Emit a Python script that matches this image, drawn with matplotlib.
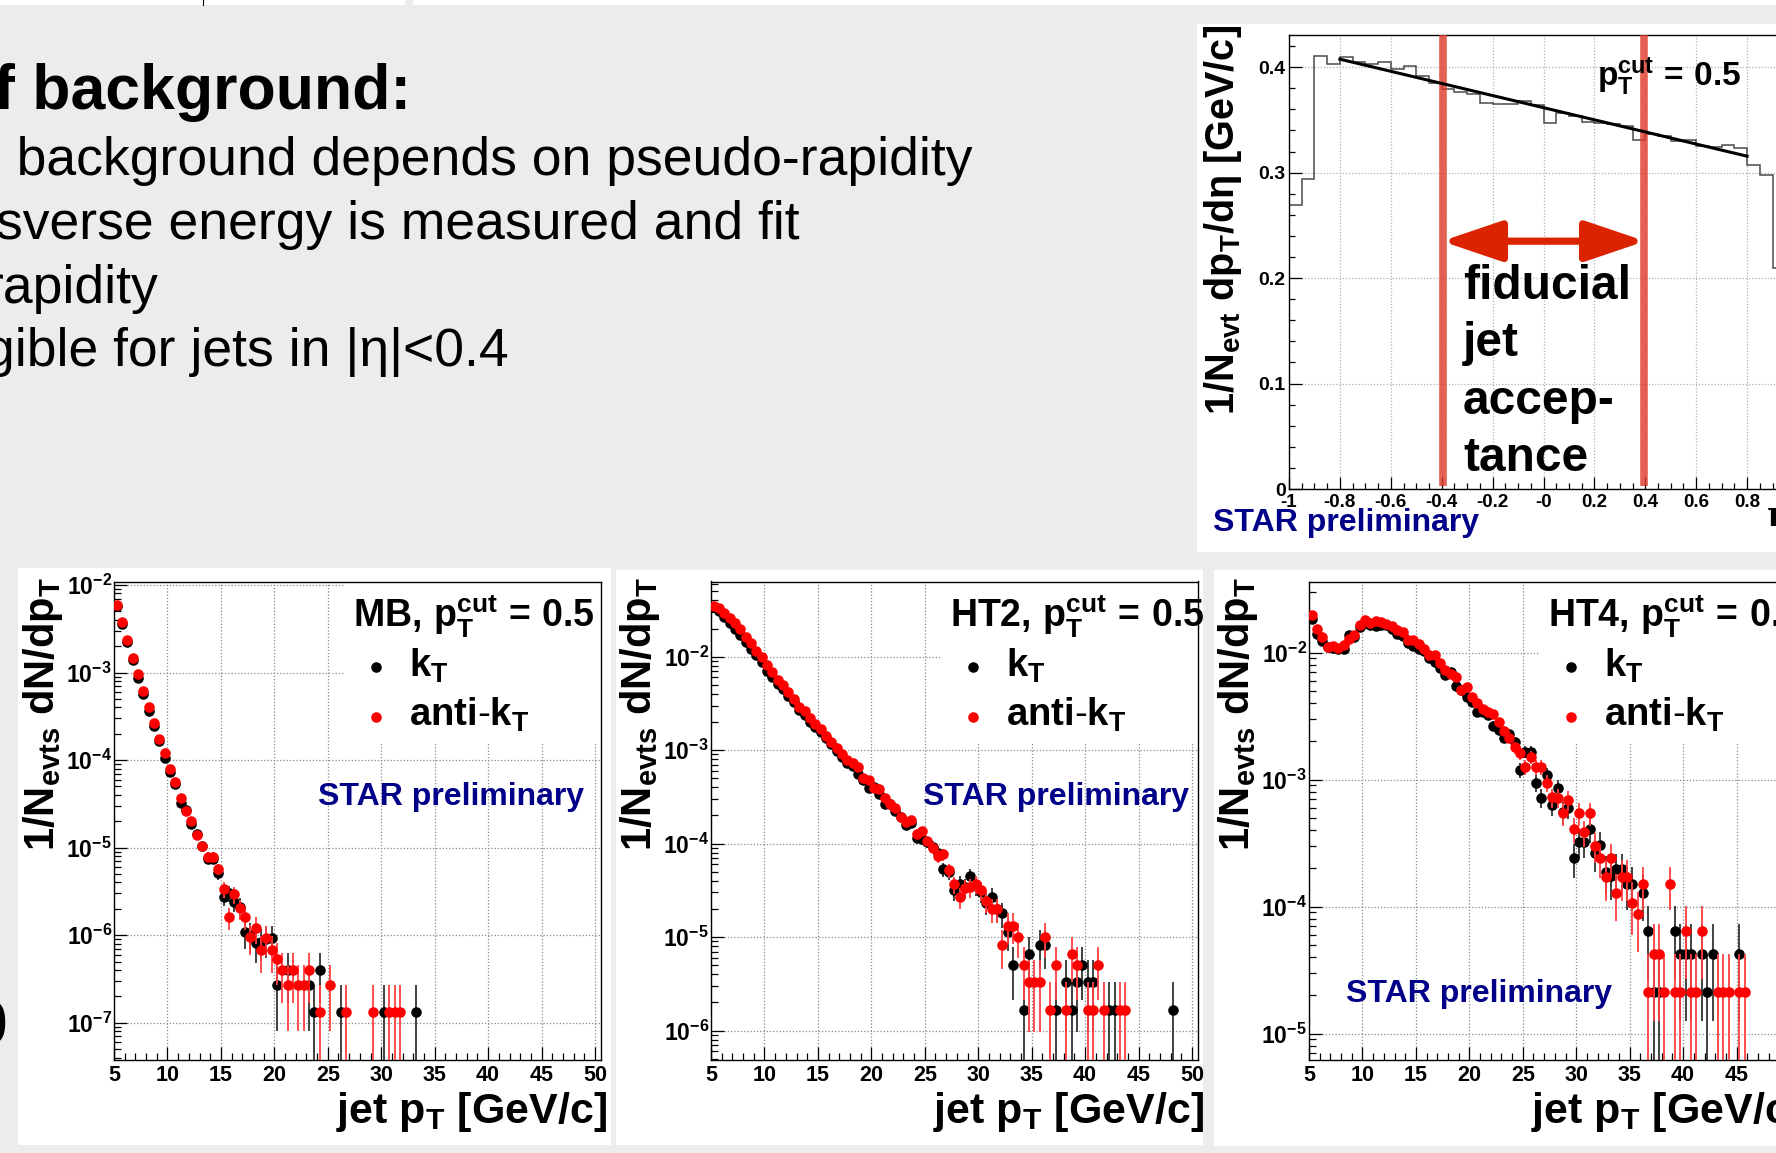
import numpy as np
import matplotlib
matplotlib.use('Agg')
import matplotlib.pyplot as plt
from matplotlib.patches import Rectangle, FancyArrowPatch, ArrowStyle
from matplotlib.ticker import MultipleLocator, LogLocator, NullFormatter
from matplotlib.lines import Line2D

plt.rcParams['font.family'] = ['Liberation Sans', 'DejaVu Sans']
plt.rcParams['mathtext.fontset'] = 'custom'
plt.rcParams['mathtext.rm'] = 'Liberation Sans'
plt.rcParams['mathtext.it'] = 'Liberation Sans:italic'
plt.rcParams['mathtext.bf'] = 'Liberation Sans:bold'
plt.rcParams['axes.unicode_minus'] = False

# ---------------- data ----------------
# eta distribution of background (top right)
eta_edges = np.round(np.arange(-1.0, 1.0001, 0.05), 3)
eta_hist = [0.269, 0.2935, 0.4104, 0.4028, 0.4098, 0.4047, 0.4028, 0.4047, 0.3984, 0.401,
            0.3915, 0.385, 0.379, 0.3767, 0.375, 0.366, 0.3655, 0.3655, 0.368, 0.364,
            0.347, 0.3567, 0.3535, 0.348, 0.347, 0.3466, 0.344, 0.3314, 0.337, 0.3346,
            0.330, 0.3314, 0.325, 0.3239, 0.3258, 0.323, 0.3068, 0.298, 0.2098, 0.19]
fit_intercept = 0.3616
fit_slope = -0.0575
fit_range = [-0.8, 0.8]
fiducial_edges = [-0.395, 0.395]
arrow_x = [-0.40, 0.40]
arrow_y = 0.235
eta_xticks = [-1, -0.8, -0.6, -0.4, -0.2, 0, 0.2, 0.4, 0.6, 0.8, 1]
eta_xlabels = ['-1', '-0.8', '-0.6', '-0.4', '-0.2', '-0', '0.2', '0.4', '0.6', '0.8', '1']
eta_yticks = [0, 0.1, 0.2, 0.3, 0.4]
eta_ylabels = ['0', '0.1', '0.2', '0.3', '0.4']

# jet spectra: bin centres 5.25 ... 49.75 GeV/c
pt_centers = 5.25 + 0.5 * np.arange(90)
nan = np.nan

def pad(v, n=90):
    return list(v) + [nan] * (n - len(v))

mb_akt = pad([5.91e-3, 3.75e-3, 2.37e-3, 1.45e-3, 9.5e-4, 6.15e-4, 4.0e-4, 2.65e-4, 1.755e-4, 1.215e-4,
              7.98e-5, 5.67e-5, 3.66e-5, 2.62e-5, 2.01e-5, 1.39e-5, 1.05e-5, 7.87e-6, 7.8e-6, 5.7e-6,
              3.34e-6, 1.6e-6, 2.92e-6, 2.02e-6, 1.6e-6, 9.5e-7, 1.2e-6, 6.7e-7, 9.3e-7, 6.7e-7,
              5.36e-7, 4.0e-7, 2.7e-7, 4.0e-7, 2.7e-7, 2.7e-7, 4.0e-7, nan, 1.34e-7, nan,
              2.7e-7, nan, nan, 1.34e-7, nan, nan, nan, nan, 1.34e-7, nan,
              nan, 1.34e-7, 1.34e-7, 1.34e-7])
mb_kt = pad([5.8e-3, 3.58e-3, 2.23e-3, 1.38e-3, 8.74e-4, 5.64e-4, 3.64e-4, 2.47e-4, 1.67e-4, 1.065e-4,
             7.24e-5, 5.33e-5, 3.2e-5, 2.67e-5, 1.88e-5, 1.42e-5, 1.05e-5, 7.5e-6, 7.5e-6, 5.08e-6,
             2.75e-6, 3.0e-6, 2.41e-6, 2.11e-6, 1.08e-6, 1.0e-6, 8.05e-7, 8.4e-7, 9.0e-7, 9.3e-7,
             2.7e-7, nan, 4.0e-7, nan, nan, nan, 2.7e-7, 1.34e-7, 4.0e-7, nan,
             nan, nan, 1.34e-7, nan, nan, nan, nan, nan, nan, nan,
             1.34e-7, nan, nan, nan, nan, nan, 1.34e-7])

ht2_akt = pad([3.46e-2, 3.30e-2, 2.91e-2, 2.57e-2, 2.28e-2, 1.98e-2, 1.64e-2, 1.39e-2, 1.14e-2, 1.0e-2,
               8.2e-3, 6.79e-3, 5.62e-3, 4.97e-3, 4.15e-3, 3.52e-3, 2.91e-3, 2.6e-3, 2.18e-3, 1.90e-3,
               1.68e-3, 1.43e-3, 1.21e-3, 1.05e-3, 9.06e-4, 7.81e-4, 7.31e-4, 6.52e-4, 4.97e-4, 4.81e-4,
               3.98e-4, 3.82e-4, 3.11e-4, 2.64e-4, 2.43e-4, 1.93e-4, 1.72e-4, 1.78e-4, 1.28e-4, 1.37e-4,
               1.07e-4, 9.06e-5, 7.38e-5, 7.69e-5, 5.18e-5, 3.65e-5, 2.65e-5, 3.33e-5, 3.39e-5, 3.68e-5,
               3.18e-5, 2.44e-5, 1.99e-5, 1.99e-5, 8.2e-6, 1.32e-5, 1.32e-5, 1.0e-5, 5.0e-6, 3.32e-6,
               3.32e-6, 3.32e-6, 1.0e-5, 1.66e-6, 5.0e-6, nan, 1.66e-6, 6.64e-6, 5.0e-6, nan,
               1.66e-6, 1.66e-6, 5.0e-6, 1.66e-6, nan, nan, 1.66e-6, 1.66e-6])
ht2_kt = pad([3.38e-2, 3.06e-2, 2.68e-2, 2.28e-2, 1.98e-2, 1.72e-2, 1.43e-2, 1.21e-2, 1.03e-2, 8.7e-3,
              7.08e-3, 6.0e-3, 5.1e-3, 4.5e-3, 3.82e-3, 3.24e-3, 2.68e-3, 2.39e-3, 1.98e-3, 1.78e-3,
              1.55e-3, 1.35e-3, 1.16e-3, 9.84e-4, 8.49e-4, 7.2e-4, 6.8e-4, 5.62e-4, 4.77e-4, 3.98e-4,
              4.05e-4, 3.43e-4, 2.68e-4, 2.64e-4, 2.24e-4, 1.93e-4, 1.58e-4, 1.66e-4, 1.16e-4, 1.11e-4,
              1.03e-4, 9.3e-5, 8.0e-5, 5.3e-5, 5.0e-5, 3.18e-5, 3.74e-5, 3.4e-5, 4.45e-5, 3.5e-5,
              3.0e-5, 2.34e-5, 2.65e-5, 2.0e-5, 1.79e-5, 1.14e-5, 5.0e-6, nan, 1.66e-6, 6.64e-6,
              nan, 8.3e-6, 8.3e-6, nan, 1.66e-6, nan, 3.32e-6, 1.66e-6, 3.32e-6, 5.0e-6,
              3.32e-6, 3.32e-6, nan, nan, 1.66e-6, 1.66e-6, nan, nan, nan, nan,
              nan, nan, nan, nan, nan, nan, 1.66e-6])

ht4_akt = pad([1.99e-2, 1.54e-2, 1.33e-2, 1.11e-2, 1.13e-2, 1.09e-2, 1.14e-2, 1.27e-2, 1.38e-2, 1.64e-2,
               1.79e-2, 1.72e-2, 1.76e-2, 1.74e-2, 1.69e-2, 1.62e-2, 1.50e-2, 1.44e-2, 1.25e-2, 1.25e-2,
               1.16e-2, 1.07e-2, 9.52e-3, 9.52e-3, 8.2e-3, 7.27e-3, 6.72e-3, 6.44e-3, 5.07e-3, 5.31e-3,
               4.46e-3, 3.98e-3, 3.6e-3, 3.43e-3, 3.27e-3, 2.83e-3, 2.42e-3, 2.14e-3, 1.79e-3, 1.61e-3,
               1.25e-3, 1.5e-3, 1.25e-3, 1.25e-3, 9.4e-4, 7.24e-4, 7.22e-4, 5.41e-4, 6.89e-4, 4.07e-4,
               5.41e-4, 3.84e-4, 5.41e-4, 3.01e-4, 2.40e-4, 1.72e-4, 2.40e-4, 1.29e-4, 1.72e-4, 1.72e-4,
               1.07e-4, 8.7e-5, 1.5e-4, 2.13e-5, 4.26e-5, 4.26e-5, 2.13e-5, 1.5e-4, 2.13e-5, 2.13e-5,
               6.4e-5, 2.13e-5, 2.13e-5, 6.4e-5, nan, nan, 2.13e-5, 2.13e-5, 2.13e-5, nan,
               2.13e-5, 2.13e-5])
ht4_kt = pad([1.85e-2, 1.41e-2, 1.23e-2, 1.11e-2, 1.09e-2, 1.06e-2, 1.06e-2, 1.37e-2, 1.33e-2, 1.59e-2,
              1.72e-2, 1.66e-2, 1.62e-2, 1.66e-2, 1.64e-2, 1.54e-2, 1.41e-2, 1.35e-2, 1.18e-2, 1.13e-2,
              1.06e-2, 1.02e-2, 9.08e-3, 8.35e-3, 7.58e-3, 6.64e-3, 7.05e-3, 5.48e-3, 5.07e-3, 4.49e-3,
              4.05e-3, 3.43e-3, 3.43e-3, 3.22e-3, 2.66e-3, 2.46e-3, 2.14e-3, 2.28e-3, 1.97e-3, 1.19e-3,
              1.66e-3, 1.66e-3, 9.4e-4, 7.16e-4, 1.09e-3, 6.35e-4, 8.5e-4, 5.57e-4, 6.0e-4, 2.4e-4,
              3.24e-4, 3.24e-4, 4.07e-4, 2.62e-4, 3.05e-4, 1.88e-4, 1.74e-4, 1.96e-4, 1.96e-4, 1.5e-4,
              1.5e-4, nan, 1.29e-4, 6.4e-5, 2.13e-5, 2.13e-5, nan, nan, 6.4e-5, 4.26e-5,
              4.26e-5, 4.26e-5, nan, 4.26e-5, 2.13e-5, 4.26e-5, nan, nan, nan, nan,
              4.26e-5])

# single-entry level (per-panel normalisation) used for Poisson error bars
mb_unit, ht2_unit, ht4_unit = 1.34e-7, 1.66e-6, 2.13e-5

panels = [
    dict(name='MB', kt=mb_kt, akt=mb_akt, unit=mb_unit, ylog=(-7.42, -1.96), decades=[-7, -6, -5, -4, -3, -2],
         left=114, star_dx=204, star_y=805),
    dict(name='HT2', kt=ht2_kt, akt=ht2_akt, unit=ht2_unit, ylog=(-6.31, -1.196), decades=[-6, -5, -4, -3, -2],
         left=711, star_dx=212, star_y=805),
    dict(name='HT4', kt=ht4_kt, akt=ht4_akt, unit=ht4_unit, ylog=(-5.204, -1.441), decades=[-5, -4, -3, -2],
         left=1309, star_dx=37, star_y=1002),
]
pt_xticks = [5, 10, 15, 20, 25, 30, 35, 40, 45, 50]

# ---------------- figure ----------------
W, H = 1776, 1153
fig = plt.figure(figsize=(W / 100, H / 100), dpi=100)
fig.patch.set_facecolor('#ececec')
NAVY = '#000088'


def fx(x):
    return x / W


def fy(y):
    return 1 - y / H


def rect(x0, y0, x1, y1, color='white', z=-10):
    fig.add_artist(Rectangle((fx(x0), fy(y1)), (x1 - x0) / W, (y1 - y0) / H,
                             transform=fig.transFigure, facecolor=color, edgecolor='none', zorder=z))


def ftext(x, y, s, **kw):
    return fig.text(fx(x), fy(y), s, **kw)


# top strip
rect(0, 0, 405, 4.6)
rect(413, 0, 1776, 4.6)
fig.add_artist(Line2D([fx(203), fx(203)], [fy(0), fy(4.6)], color='black', lw=0.8,
                      transform=fig.transFigure))

# slide text (cut at the left edge)
ftext(411, 109, 'f background:', ha='right', va='baseline', fontsize=45, fontweight='bold')
ftext(972, 175, 'e background depends on pseudo-rapidity', ha='right', va='baseline', fontsize=38.5)
ftext(800, 238.6, 'sverse energy is measured and fit', ha='right', va='baseline', fontsize=38.5)
ftext(158.4, 303, 'rapidity', ha='right', va='baseline', fontsize=38.5)
ftext(509, 366, 'gible for jets in |η|<0.4', ha='right', va='baseline', fontsize=38.5)
ftext(7, 1028, '0', ha='right', va='center', fontsize=45, fontweight='bold')

# white panels
rect(1197, 24, 1776, 552)
rect(18, 568, 611, 1145)
rect(616, 570, 1203, 1145)
rect(1214, 570, 1776, 1146)

# ---------------- top right: eta distribution ----------------
ax = fig.add_axes([fx(1289), fy(489), (1798 - 1289) / W, (489 - 34.5) / H])
ax.set_xlim(-1, 1)
ax.set_ylim(0, 0.431)
ax.set_axisbelow(True)
ax.grid(True, which='major', color='#b0b0b0', linestyle=(0, (1, 1.5)), linewidth=0.9)
ax.stairs(eta_hist, eta_edges, baseline=None, color='#4a4a4a', lw=1.1, zorder=2)
ax.vlines(fiducial_edges, 0.003, 0.431, colors='#e03a28', alpha=0.8, lw=5.5, zorder=3)
xf = np.array(fit_range)
ax.plot(xf, fit_intercept + fit_slope * xf, color='black', lw=2.2, zorder=4)
arr = FancyArrowPatch((arrow_x[0], arrow_y), (arrow_x[1], arrow_y),
                      arrowstyle=ArrowStyle('<|-|>', head_length=37, head_width=12.5),
                      color='#dc2300', lw=5.2, shrinkA=0, shrinkB=0, joinstyle='round',
                      capstyle='butt', zorder=5)
ax.add_patch(arr)
ax.set_xticks(eta_xticks, labels=eta_xlabels, fontsize=13.5, fontweight='bold')
ax.set_yticks(eta_yticks, labels=eta_ylabels, fontsize=14, fontweight='bold')
ax.xaxis.set_minor_locator(MultipleLocator(0.05))
ax.yaxis.set_minor_locator(MultipleLocator(0.02))
ax.tick_params(which='both', direction='in', top=False, right=False, width=0.9, color='black')
ax.tick_params(which='major', length=9)
ax.tick_params(which='minor', length=4.5)
ax.tick_params(axis='x', pad=3.5)
ax.tick_params(axis='y', pad=2.5)
for s in ax.spines.values():
    s.set_linewidth(1.0)

ftext(1223, 25, r'$\mathbf{1/N_{evt}\ dp_{T}/d\eta\ [GeV/c]}$', rotation=90, ha='center', va='top',
      fontsize=28.5)
ftext(1597, 86, r'$\mathbf{p_{T}^{cut}\,=\,0.5}$', ha='left', va='baseline', fontsize=24)
for txt, yb in zip(['fiducial', 'jet', 'accep-', 'tance'], [299, 356, 414, 471]):
    ftext(1463, yb, txt, ha='left', va='baseline', fontsize=34.5, fontweight='bold')
ftext(1213, 531, 'STAR preliminary', ha='left', va='baseline', fontsize=23, fontweight='bold', color=NAVY)
ftext(1767, 526, 'η', ha='left', va='baseline', fontsize=26, fontweight='bold', family='DejaVu Serif')

# ---------------- bottom: jet spectra ----------------
AX_T, AX_B, AX_W = 581.5, 1059.5, 487


def draw_series(ax, x, y, unit, color, ecolor, zb, zm, ylo):
    y = np.asarray(y, float)
    m = np.isfinite(y)
    xs, ys = x[m], y[m]
    err = np.sqrt(ys * unit)
    lo = np.where(ys - err > ylo, ys - err, ylo * 0.5)
    hi = ys + err
    ax.vlines(xs, lo, hi, colors=ecolor, lw=1.3, zorder=zb)
    ax.plot(xs, ys, linestyle='none', marker='o', ms=7.6, color=color, mew=0, zorder=zm)


for p in panels:
    L = p['left']
    ax = fig.add_axes([fx(L), fy(AX_B), AX_W / W, (AX_B - AX_T) / H])
    ax.set_yscale('log')
    ax.set_xlim(5, 50.56)
    ylo, yhi = 10 ** p['ylog'][0], 10 ** p['ylog'][1]
    ax.set_ylim(ylo, yhi)
    ax.set_axisbelow(True)
    ax.grid(True, which='major', color='#8a8a8a', linestyle=(0, (1, 1.6)), linewidth=0.9)
    ax.add_patch(Rectangle((0.474, 0.662), 0.524, 0.336, transform=ax.transAxes,
                           facecolor='white', edgecolor='none', zorder=1))
    draw_series(ax, pt_centers, p['kt'], p['unit'], 'black', '#333333', 2, 3, ylo)
    draw_series(ax, pt_centers, p['akt'], p['unit'], '#ff0000', '#ff4040', 3.5, 4, ylo)

    ax.set_xticks(pt_xticks, labels=[str(t) for t in pt_xticks], fontsize=15.5, fontweight='bold')
    ax.set_yticks([10.0 ** d for d in p['decades']],
                  labels=[r'$\mathbf{10^{%d}}$' % d for d in p['decades']], fontsize=16.5)
    ax.xaxis.set_minor_locator(MultipleLocator(1))
    ax.yaxis.set_minor_locator(LogLocator(base=10, subs=np.arange(2, 10), numticks=30))
    ax.yaxis.set_minor_formatter(NullFormatter())
    ax.tick_params(which='both', direction='in', top=False, right=False, width=0.9, color='black')
    ax.tick_params(which='major', length=9.5)
    ax.tick_params(which='minor', length=5)
    ax.tick_params(axis='x', pad=4)
    ax.tick_params(axis='y', pad=1.5)
    for s in ax.spines.values():
        s.set_linewidth(1.0)

    # legend
    mx = 261.6 / AX_W
    ax.plot([mx], [(AX_B - 667) / (AX_B - AX_T)], 'o', ms=7.6, color='black', mew=0,
            transform=ax.transAxes, clip_on=False, zorder=6)
    ax.plot([mx], [(AX_B - 717) / (AX_B - AX_T)], 'o', ms=7.6, color='#ff0000', mew=0,
            transform=ax.transAxes, clip_on=False, zorder=6)
    ftext(L + 239, 628, r'$\mathbf{%s,\,p_{T}^{cut}\,=\,0.5}$' % p['name'], ha='left', va='baseline',
          fontsize=27)
    ftext(L + 295, 677, r'$\mathbf{k_{T}}$', ha='left', va='baseline', fontsize=27.5)
    ftext(L + 295, 726, r'$\mathbf{anti}$-$\mathbf{k_{T}}$', ha='left', va='baseline', fontsize=27.5)
    ftext(L + p['star_dx'], p['star_y'], 'STAR preliminary', ha='left', va='baseline', fontsize=23,
          fontweight='bold', color=NAVY)
    ftext(L + 493, 1123, r'$\mathbf{jet\ p_{T}\ [GeV/c]}$', ha='right', va='baseline', fontsize=31)
    ftext(L - 71, 577, r'$\mathbf{1/N_{evts}\ dN/dp_{T}}$', rotation=90, ha='center', va='top',
          fontsize=30)

fig.savefig('out.png', dpi=100, facecolor=fig.get_facecolor())
